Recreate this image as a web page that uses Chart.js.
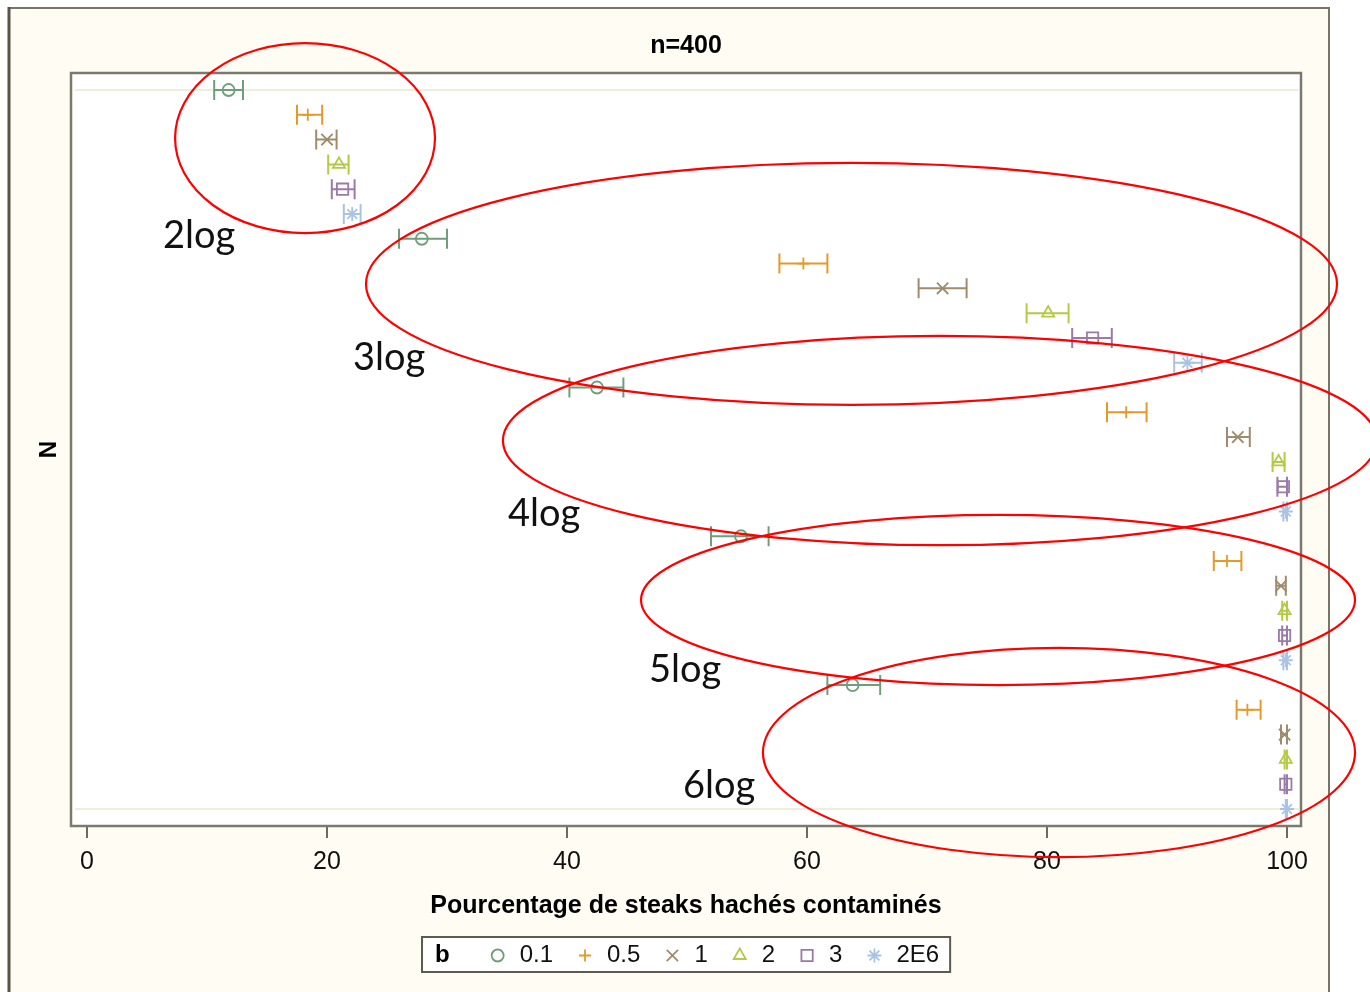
<!DOCTYPE html>
<html><head><meta charset="utf-8">
<script src="https://cdn.jsdelivr.net/npm/chart.js@4.4.1/dist/chart.umd.min.js"></script>
<style>html,body{margin:0;padding:0;background:#fff;}canvas{display:block;}</style>
</head><body>
<canvas id="c" width="1370" height="992"></canvas>
<script>
// ---- data ----
const groups = ['2log', '3log', '4log', '5log', '6log'];
const bLabels = ['0.1', '0.5', '1', '2', '3', '2E6'];
const xTicks = [0, 20, 40, 60, 80, 100];

const mid_01 = [11.8, 27.9, 42.5, 54.5, 63.8];
const lo_01  = [10.6, 26.0, 40.2, 52.0, 61.7];
const hi_01  = [13.0, 30.0, 44.7, 56.8, 66.1];

const mid_05 = [18.4, 59.7, 86.6, 95.0, 96.7];
const lo_05  = [17.5, 57.7, 85.0, 93.9, 95.8];
const hi_05  = [19.6, 61.7, 88.3, 96.2, 97.8];

const mid_1 = [20.0, 71.3, 95.9, 99.5, 99.8];
const lo_1  = [19.1, 69.3, 95.0, 99.1, 99.5];
const hi_1  = [20.8, 73.3, 96.9, 99.9, 100];

const mid_2 = [21.0, 80.1, 99.3, 99.8, 99.9];
const lo_2  = [20.1, 78.3, 98.8, 99.6, 99.8];
const hi_2  = [21.8, 81.8, 99.8, 100, 100];

const mid_3 = [21.3, 83.8, 99.7, 99.8, 99.9];
const lo_3  = [20.4, 82.1, 99.2, 99.6, 99.8];
const hi_3  = [22.3, 85.4, 100, 100, 100];

const mid_2E6 = [22.1, 91.7, 99.9, 99.9, 100];
const lo_2E6  = [21.4, 90.6, 99.7, 99.7, 99.9];
const hi_2E6  = [22.8, 92.9, 100, 100, 100];

// annotation ellipses (data units: x %, y row index)
const ellCx = [18.17, 63.71, 71.08, 75.92, 81.0];
const ellCy = [2.94, 8.82, 15.14, 21.57, 27.72];
const ellRx = [10.83, 40.46, 36.42, 29.75, 24.67];
const ellRy = [3.83, 4.88, 4.22, 3.43, 4.22];
const labX = [6.33, 22.17, 35.08, 46.83, 49.67];
const labY = [7.37, 12.29, 18.59, 24.88, 29.56];

// ---- styles ----
const FONT = "'Liberation Sans', Arial, sans-serif";
Chart.defaults.font.family = FONT;
const colors = ['#6f9f7a', '#e39a2a', '#a08b6a', '#b5c944', '#9a7aa8', '#a9c3e3'];
const styles = ['circle', 'cross', 'crossRot', 'triangle', 'rect', 'star'];
const radii = [6, 6, 8, 7, 8, 7];
const mids = [mid_01, mid_05, mid_1, mid_2, mid_3, mid_2E6];
const los = [lo_01, lo_05, lo_1, lo_2, lo_3, lo_2E6];
const his = [hi_01, hi_05, hi_1, hi_2, hi_3, hi_2E6];

const datasets = bLabels.map((b, i) => ({
  label: b,
  data: groups.map((g, gi) => ({ x: mids[i][gi], y: gi * 6 + i + 1 })),
  lo: los[i], hi: his[i],
  pointStyle: styles[i],
  borderColor: colors[i],
  backgroundColor: 'rgba(0,0,0,0)',
  pointRadius: radii[i],
  pointBorderWidth: 1.8,
  showLine: false
}));

const decor = {
  id: 'decor',
  beforeDraw(chart) {
    const { ctx, chartArea: a } = chart;
    ctx.save();
    ctx.fillStyle = '#ffffff';
    ctx.fillRect(0, 0, chart.width, chart.height);
    ctx.fillStyle = '#fffcf4';
    ctx.fillRect(9, 8, 1320, 984);
    ctx.strokeStyle = '#7a7466';
    ctx.lineWidth = 2;
    ctx.beginPath(); ctx.moveTo(8, 8); ctx.lineTo(1330, 8); ctx.stroke();
    ctx.beginPath(); ctx.moveTo(1329, 8); ctx.lineTo(1329, 992); ctx.stroke();
    ctx.strokeStyle = '#5a5446';
    ctx.lineWidth = 3;
    ctx.beginPath(); ctx.moveTo(9, 7); ctx.lineTo(9, 992); ctx.stroke();
    ctx.fillStyle = '#ffffff';
    ctx.fillRect(a.left, a.top, a.right - a.left, a.bottom - a.top);
    ctx.restore();
  },
  beforeDatasetsDraw(chart) {
    const { ctx, chartArea: a, scales: { x, y } } = chart;
    ctx.save();
    ctx.strokeStyle = '#efeedd';
    ctx.lineWidth = 2;
    [1, 30].forEach(r => {
      const py = y.getPixelForValue(r);
      ctx.beginPath(); ctx.moveTo(a.left + 4, py); ctx.lineTo(a.right - 2, py); ctx.stroke();
    });
    chart.data.datasets.forEach(ds => {
      ctx.strokeStyle = ds.borderColor;
      ctx.lineWidth = 2;
      ds.data.forEach((p, k) => {
        const py = y.getPixelForValue(p.y);
        const x1 = x.getPixelForValue(ds.lo[k]);
        const x2 = x.getPixelForValue(ds.hi[k]);
        ctx.beginPath();
        ctx.moveTo(x1, py); ctx.lineTo(x2, py);
        ctx.moveTo(x1, py - 10); ctx.lineTo(x1, py + 10);
        ctx.moveTo(x2, py - 10); ctx.lineTo(x2, py + 10);
        ctx.stroke();
      });
    });
    ctx.restore();
  },
  afterDraw(chart) {
    const { ctx, chartArea: a, scales: { x, y } } = chart;
    ctx.save();
    // plot frame
    ctx.strokeStyle = '#7d786c';
    ctx.lineWidth = 2.5;
    ctx.strokeRect(a.left, a.top, a.right - a.left, a.bottom - a.top);
    // title
    ctx.fillStyle = '#000';
    ctx.font = 'bold 25px ' + FONT;
    ctx.textAlign = 'center';
    ctx.textBaseline = 'middle';
    ctx.fillText('n=400', (a.left + a.right) / 2, 46);
    // red ellipses
    ctx.strokeStyle = '#ff0000';
    ctx.lineWidth = 2.2;
    for (let i = 0; i < ellCx.length; i++) {
      const cx = x.getPixelForValue(ellCx[i]);
      const cy = y.getPixelForValue(ellCy[i]);
      const rx = Math.abs(x.getPixelForValue(ellCx[i] + ellRx[i]) - cx);
      const ry = Math.abs(y.getPixelForValue(ellCy[i] + ellRy[i]) - cy);
      ctx.beginPath(); ctx.ellipse(cx, cy, rx, ry, 0, 0, Math.PI * 2); ctx.stroke();
    }
    // group labels
    ctx.fillStyle = '#111';
    ctx.font = "38px Lato, 'Open Sans', sans-serif";
    ctx.textAlign = 'left';
    ctx.textBaseline = 'alphabetic';
    groups.forEach((g, i) => ctx.fillText(g, x.getPixelForValue(labX[i]), y.getPixelForValue(labY[i])));
    // legend
    const lf = '24px ' + FONT, bf = 'bold 24px ' + FONT;
    ctx.font = bf;
    const bw = ctx.measureText('b').width;
    ctx.font = lf;
    let total = 13 + bw + 48;
    const widths = chart.data.datasets.map(d => ctx.measureText(d.label).width);
    widths.forEach((w, i) => { total += 22 + w + (i < widths.length - 1 ? 32 : 11); });
    const cxm = (a.left + a.right) / 2;
    const bx = Math.round(cxm - total / 2), by = 937, bh = 35;
    ctx.fillStyle = '#ffffff';
    ctx.fillRect(bx, by, total, bh);
    ctx.strokeStyle = '#5f5a50';
    ctx.lineWidth = 2;
    ctx.strokeRect(bx, by, total, bh);
    const ly = by + bh / 2 + 1;
    ctx.fillStyle = '#000';
    ctx.font = bf;
    ctx.textBaseline = 'middle';
    ctx.fillText('b', bx + 13, ly);
    let cur = bx + 13 + bw + 48;
    chart.data.datasets.forEach((d, i) => {
      ctx.strokeStyle = d.borderColor;
      ctx.fillStyle = 'rgba(0,0,0,0)';
      ctx.lineWidth = 1.8;
      Chart.helpers.drawPoint(ctx, { pointStyle: d.pointStyle, radius: d.pointRadius, rotation: 0, borderWidth: 1.8 }, cur, ly);
      ctx.fillStyle = '#111';
      ctx.font = lf;
      ctx.fillText(d.label, cur + 22, ly);
      cur += 22 + widths[i] + 32;
    });
    ctx.restore();
  }
};

new Chart(document.getElementById('c'), {
  type: 'scatter',
  data: { datasets },
  options: {
    responsive: false,
    animation: false,
    devicePixelRatio: 1,
    layout: { padding: { left: 0, right: 69, top: 73, bottom: 66 } },
    plugins: {
      legend: { display: false },
      tooltip: { enabled: false },
      title: { display: false }
    },
    scales: {
      x: {
        type: 'linear', min: -1.333, max: 101.167,
        afterBuildTicks: s => { s.ticks = xTicks.map(v => ({ value: v })); },
        ticks: { font: { size: 25 }, color: '#111', padding: 9, maxRotation: 0, autoSkip: false },
        grid: { drawOnChartArea: false, drawTicks: true, tickLength: 12, color: '#6f6a5e', lineWidth: 2 },
        border: { display: false },
        title: {
          display: true, text: 'Pourcentage de steaks hachés contaminés', color: '#000',
          font: { size: 25, weight: 'bold' }, padding: { top: 0, bottom: 5 }
        },
        afterFit: s => { s.height = 100; }
      },
      y: {
        type: 'linear', reverse: true, min: 0.314, max: 30.686,
        ticks: { display: false },
        grid: { display: false },
        border: { display: false },
        title: { display: true, text: 'N', color: '#000', font: { size: 24, weight: 'bold' }, padding: { top: 35, bottom: 0 } },
        afterFit: s => { s.width = 71; }
      }
    }
  },
  plugins: [decor]
});
</script>
</body></html>
